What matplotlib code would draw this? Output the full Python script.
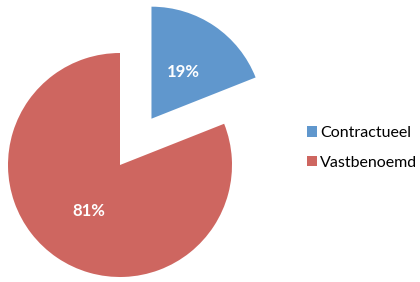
import matplotlib
matplotlib.use("Agg")
import matplotlib.pyplot as plt
from matplotlib.patches import Patch

categories = ["Contractueel", "Vastbenoemd"]
values = [19, 81]
colors = ["#6097CD", "#CE6660"]

fig = plt.figure(figsize=(4.2, 2.82), dpi=100)
ax = fig.add_axes([0, 0, 1, 1])
R = 112.0
wedges, texts, autotexts = ax.pie(
    values, colors=colors, startangle=90, counterclock=False,
    explode=[0.5, 0], radius=1, autopct="%d%%", pctdistance=0.5,
    textprops=dict(color="white", fontsize=12, fontweight="bold", family="Lato"),
)
ax.set_xlim(-120 / R, 300 / R)
ax.set_ylim(-117 / R, 165 / R)
ax.set_aspect("equal")
ax.axis("off")

handles = [Patch(facecolor=c, edgecolor="none") for c in colors]
leg = fig.legend(handles, categories, loc="center left", bbox_to_anchor=(0.731, 0.475),
                 frameon=False, prop=dict(family="Lato", size=11.5),
                 handlelength=0.6, handleheight=0.6, handletextpad=0.2,
                 labelspacing=1.0, borderpad=0, borderaxespad=0)
fig.savefig("out.png", dpi=100)
